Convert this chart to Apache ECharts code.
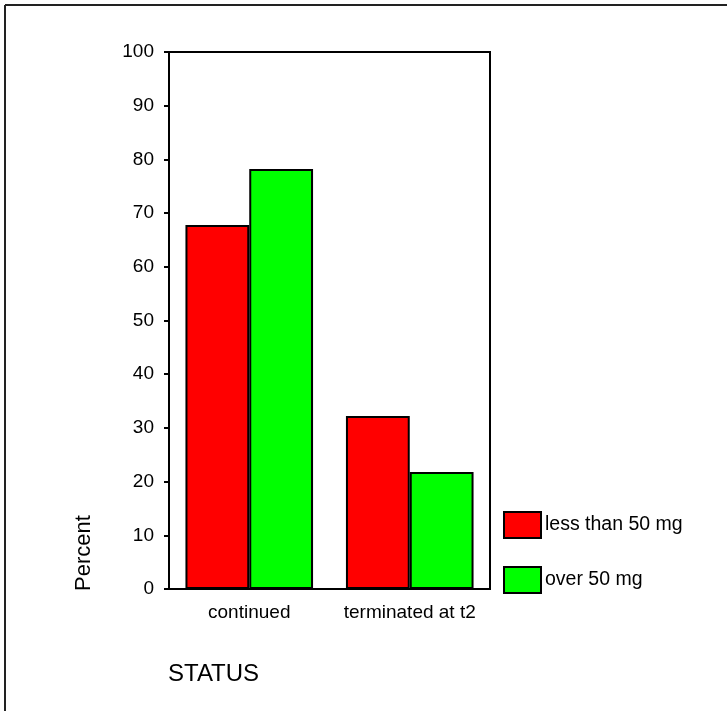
<!DOCTYPE html>
<html>
<head>
<meta charset="utf-8">
<script src="https://cdn.jsdelivr.net/npm/echarts@6/dist/echarts.min.js"></script>
<style>html,body{margin:0;padding:0;background:#fff;}#c{width:727px;height:711px;}</style>
</head>
<body>
<div id="c"></div>
<script>
var categories = ['continued', 'terminated at t2'];
var seriesNames = ['less than 50 mg', 'over 50 mg'];
var lessThan50 = [67.8, 32.2];
var over50 = [78.2, 21.8];
var yTicks = [0, 10, 20, 30, 40, 50, 60, 70, 80, 90, 100];
var xTitle = 'STATUS';
var yTitle = 'Percent';

var FONT = '"Liberation Sans", Arial, sans-serif';
var chart = echarts.init(document.getElementById('c'));
chart.setOption({
  animation: false,
  backgroundColor: '#fff',
  grid: { left: 169, top: 52, width: 321, height: 537, show: true, borderColor: '#000', borderWidth: 2, backgroundColor: 'transparent' },
  xAxis: {
    type: 'category', data: categories,
    axisLine: { lineStyle: { color: '#000', width: 2 } },
    axisTick: { alignWithLabel: true, length: 8, lineStyle: { color: '#000', width: 2 } },
    axisLabel: { color: '#000', fontSize: 19, fontFamily: FONT, margin: 14, interval: 0, hideOverlap: false },
    splitLine: { show: false }
  },
  yAxis: {
    type: 'value', min: yTicks[0], max: yTicks[yTicks.length - 1], interval: 10,
    axisLine: { show: true, lineStyle: { color: '#000', width: 2 } },
    axisTick: { show: true, length: 5, lineStyle: { color: '#000', width: 2 } },
    axisLabel: { color: '#000', fontSize: 19, fontFamily: FONT, margin: 15 },
    splitLine: { show: false }
  },
  legend: {
    orient: 'vertical', left: 503, top: 511, padding: 0, itemWidth: 37, itemHeight: 26, itemGap: 27,
    icon: 'rect',
    textStyle: { color: '#000', fontSize: 19.5, fontFamily: FONT, padding: [0, 0, 0, -1] },
    data: seriesNames
  },
  series: [
    { name: seriesNames[0], type: 'bar', data: lessThan50, barGap: '0%', barCategoryGap: '20.5%',
      itemStyle: { color: '#ff0000', borderColor: '#000', borderWidth: 2 } },
    { name: seriesNames[1], type: 'bar', data: over50,
      itemStyle: { color: '#00ff00', borderColor: '#000', borderWidth: 2 } }
  ],
  graphic: [
    { type: 'line', shape: { x1: 5, y1: 5, x2: 727, y2: 5 }, style: { stroke: '#222', lineWidth: 2 } },
    { type: 'line', shape: { x1: 5, y1: 5, x2: 5, y2: 711 }, style: { stroke: '#222', lineWidth: 2 } },
    { type: 'text', x: 84, y: 591, rotation: Math.PI / 2,
      style: { text: yTitle, fill: '#000', font: '22px ' + FONT, align: 'left', verticalAlign: 'middle' } },
    { type: 'text', x: 168, y: 674,
      style: { text: xTitle, fill: '#000', font: '24px ' + FONT, align: 'left', verticalAlign: 'middle' } }
  ]
});
</script>
</body>
</html>
